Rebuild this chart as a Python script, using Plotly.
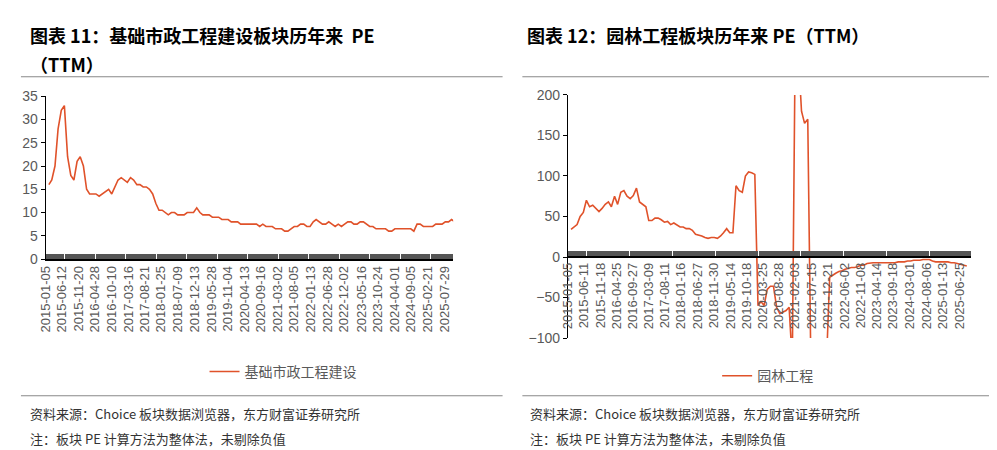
import pandas as pd
import plotly.graph_objects as go

# 基础市政工程建设 PE(TTM), monthly, from 2015-01
pe_muni = [16, 17, 20, 28, 32, 33, 22, 18, 17, 21, 22, 20,
           15, 14, 14, 14, 13.5, 14, 14.5, 15, 14, 15.5, 17, 17.5,
           17, 16.5, 17.5, 17, 16, 16, 15.5, 15.5, 15, 14, 12, 10.5,
           10.5, 10, 9.5, 10, 10, 9.5, 9.5, 9.5, 10, 10, 10, 11,
           10, 9.5, 9.5, 9.5, 9, 9, 9, 8.5, 8.5, 8.5, 8, 8,
           8, 7.5, 7.5, 7.5, 7.5, 7.5, 7.5, 7, 7.5, 7, 7, 7,
           6.5, 6.5, 6.5, 6, 6, 6.5, 7, 7, 7.5, 7.5, 7, 7,
           8, 8.5, 8, 7.5, 7.5, 8, 7.5, 7, 7.5, 7, 7.5, 8,
           8, 7.5, 7.5, 8, 8, 7.5, 7, 7, 6.5, 6.5, 6.5, 6.5,
           6, 6, 6.5, 6.5, 6.5, 6.5, 6.5, 6.5, 6, 7.5, 7.5, 7,
           7, 7, 7, 7.5, 7.5, 7.5, 8, 8, 8.5, 8]

# 园林工程 PE(TTM), monthly, from 2015-01 (values beyond the axis are clipped)
pe_garden = [34, 37, 40, 50, 55, 70, 62, 64, 60, 56, 60, 65,
             68, 62, 75, 65, 80, 82, 75, 72, 76, 85, 68, 65,
             62, 45, 45, 48, 48, 46, 43, 44, 40, 42, 40, 37,
             37, 35, 35, 33, 28, 27, 26, 24, 23, 24, 24, 23,
             26, 30, 35, 30, 30, 88, 82, 80, 100, 105, 104, 102,
             -60, -55, -60, -40, -36, -36, -62, -70, -68, -66, -62, -130,
             300, 250, 180, 165, 170, -130, -130, -130, -130, -130, -130, -25,
             -22, -20, -18, -17, -15, -14, -13, -13, -12, -10, -10, -8,
             -7, -7, -7, -7, -7, -7, -7, -7, -7, -6, -6, -6,
             -5, -5, -4, -4, -4, -3, -3, -3, -5, -6, -6, -6,
             -6, -6, -7, -7, -8, -9, -10, -11]

ticks_muni = ["2015-01-05", "2015-06-12", "2015-11-20", "2016-04-28", "2016-10-10",
              "2017-03-16", "2017-08-21", "2018-01-25", "2018-07-09", "2018-12-13",
              "2019-05-28", "2019-11-04", "2020-04-13", "2020-09-16", "2021-03-02",
              "2021-08-05", "2022-01-13", "2022-06-28", "2022-12-02", "2023-05-16",
              "2023-10-24", "2024-04-01", "2024-09-05", "2025-02-21", "2025-07-29"]
ticks_garden = ["2015-01-05", "2015-06-11", "2015-11-18", "2016-04-25", "2016-09-27",
                "2017-03-09", "2017-08-11", "2018-01-16", "2018-06-27", "2018-11-30",
                "2019-05-14", "2019-10-18", "2020-03-25", "2020-08-28", "2021-02-03",
                "2021-07-15", "2021-12-21", "2022-06-02", "2022-11-08", "2023-04-14",
                "2023-09-18", "2024-03-01", "2024-08-06", "2025-01-13", "2025-06-25"]

dates_muni = pd.date_range("2015-01-05", periods=len(pe_muni), freq="MS") + pd.Timedelta(days=4)
dates_garden = pd.date_range("2015-01-05", periods=len(pe_garden), freq="MS") + pd.Timedelta(days=4)

FONT = "Noto Sans CJK SC"
RED = "#e0522a"
GREY = "#595959"

fig = go.Figure()
fig.add_trace(go.Scatter(x=dates_muni, y=pe_muni, mode="lines", name="基础市政工程建设",
                         line=dict(color=RED, width=1.6), xaxis="x", yaxis="y", legend="legend"))
fig.add_trace(go.Scatter(x=dates_garden, y=pe_garden, mode="lines", name="园林工程",
                         line=dict(color=RED, width=1.6), xaxis="x2", yaxis="y2", legend="legend2"))

x_end = "2025-10-20"
xcommon = dict(type="date", range=["2015-01-05", x_end], tickangle=-90,
               tickfont=dict(size=13, color=GREY, family="Liberation Sans"),
               showline=True, linecolor="black", linewidth=1.5, showgrid=False,
               ticks="", minor=dict(ticks="inside", ticklen=5, dtick=10 * 86400000,
                                    tickcolor="#555", tickwidth=1, showgrid=False))
ycommon = dict(showline=True, linecolor="black", linewidth=1, showgrid=False, zeroline=False,
               ticks="outside", ticklen=4, tickcolor="black",
               tickfont=dict(size=14, color=GREY, family="Liberation Sans"))

fig.update_layout(
    width=997, height=450, margin=dict(l=0, r=0, t=0, b=0),
    plot_bgcolor="white", paper_bgcolor="white", font=dict(family=FONT),
    xaxis=dict(xcommon, domain=[0.030, 0.442], anchor="y",
               tickvals=ticks_muni, ticktext=ticks_muni),
    yaxis=dict(ycommon, domain=[0.44, 0.815], range=[0, 35], dtick=5, anchor="x"),
    xaxis2=dict(xcommon, domain=[0.558, 0.966], anchor="free", position=0.445,
                tickvals=ticks_garden, ticktext=ticks_garden),
    yaxis2=dict(ycommon, domain=[0.258, 0.818], range=[-100, 200], dtick=50, anchor="x2"),
    legend=dict(x=0.27, y=0.18, xanchor="center", yanchor="middle", orientation="h",
                font=dict(size=14, color=GREY, family=FONT)),
    legend2=dict(x=0.76, y=0.17, xanchor="center", yanchor="middle", orientation="h",
                 font=dict(size=14, color=GREY, family=FONT)),
    showlegend=True,
)

titles = [(0.012, 0.99, "<b>图表 11：基础市政工程建设板块历年来  PE</b>"),
          (0.012, 0.925, "<b>（TTM）</b>"),
          (0.515, 0.99, "<b>图表 12：园林工程板块历年来 PE（TTM）</b>")]
for x, y, t in titles:
    fig.add_annotation(x=x, y=y, xref="paper", yref="paper", text=t, showarrow=False,
                       xanchor="left", yanchor="top", font=dict(size=18, color="black", family=FONT))

notes = ["资料来源：Choice 板块数据浏览器，东方财富证券研究所", "注：板块 PE 计算方法为整体法，未剔除负值"]
for x0 in (0.012, 0.518):
    for i, t in enumerate(notes):
        fig.add_annotation(x=x0, y=0.083 - i * 0.057, xref="paper", yref="paper", text=t,
                           showarrow=False, xanchor="left", yanchor="middle",
                           font=dict(size=13, color="#333", family=FONT))

for x0, x1 in ((0.005, 0.492), (0.512, 0.995)):
    for y in (0.86, 0.125):
        fig.add_shape(type="line", xref="paper", yref="paper", x0=x0, x1=x1, y0=y, y1=y,
                      line=dict(color="#888", width=1))

fig.write_html("out.html")
